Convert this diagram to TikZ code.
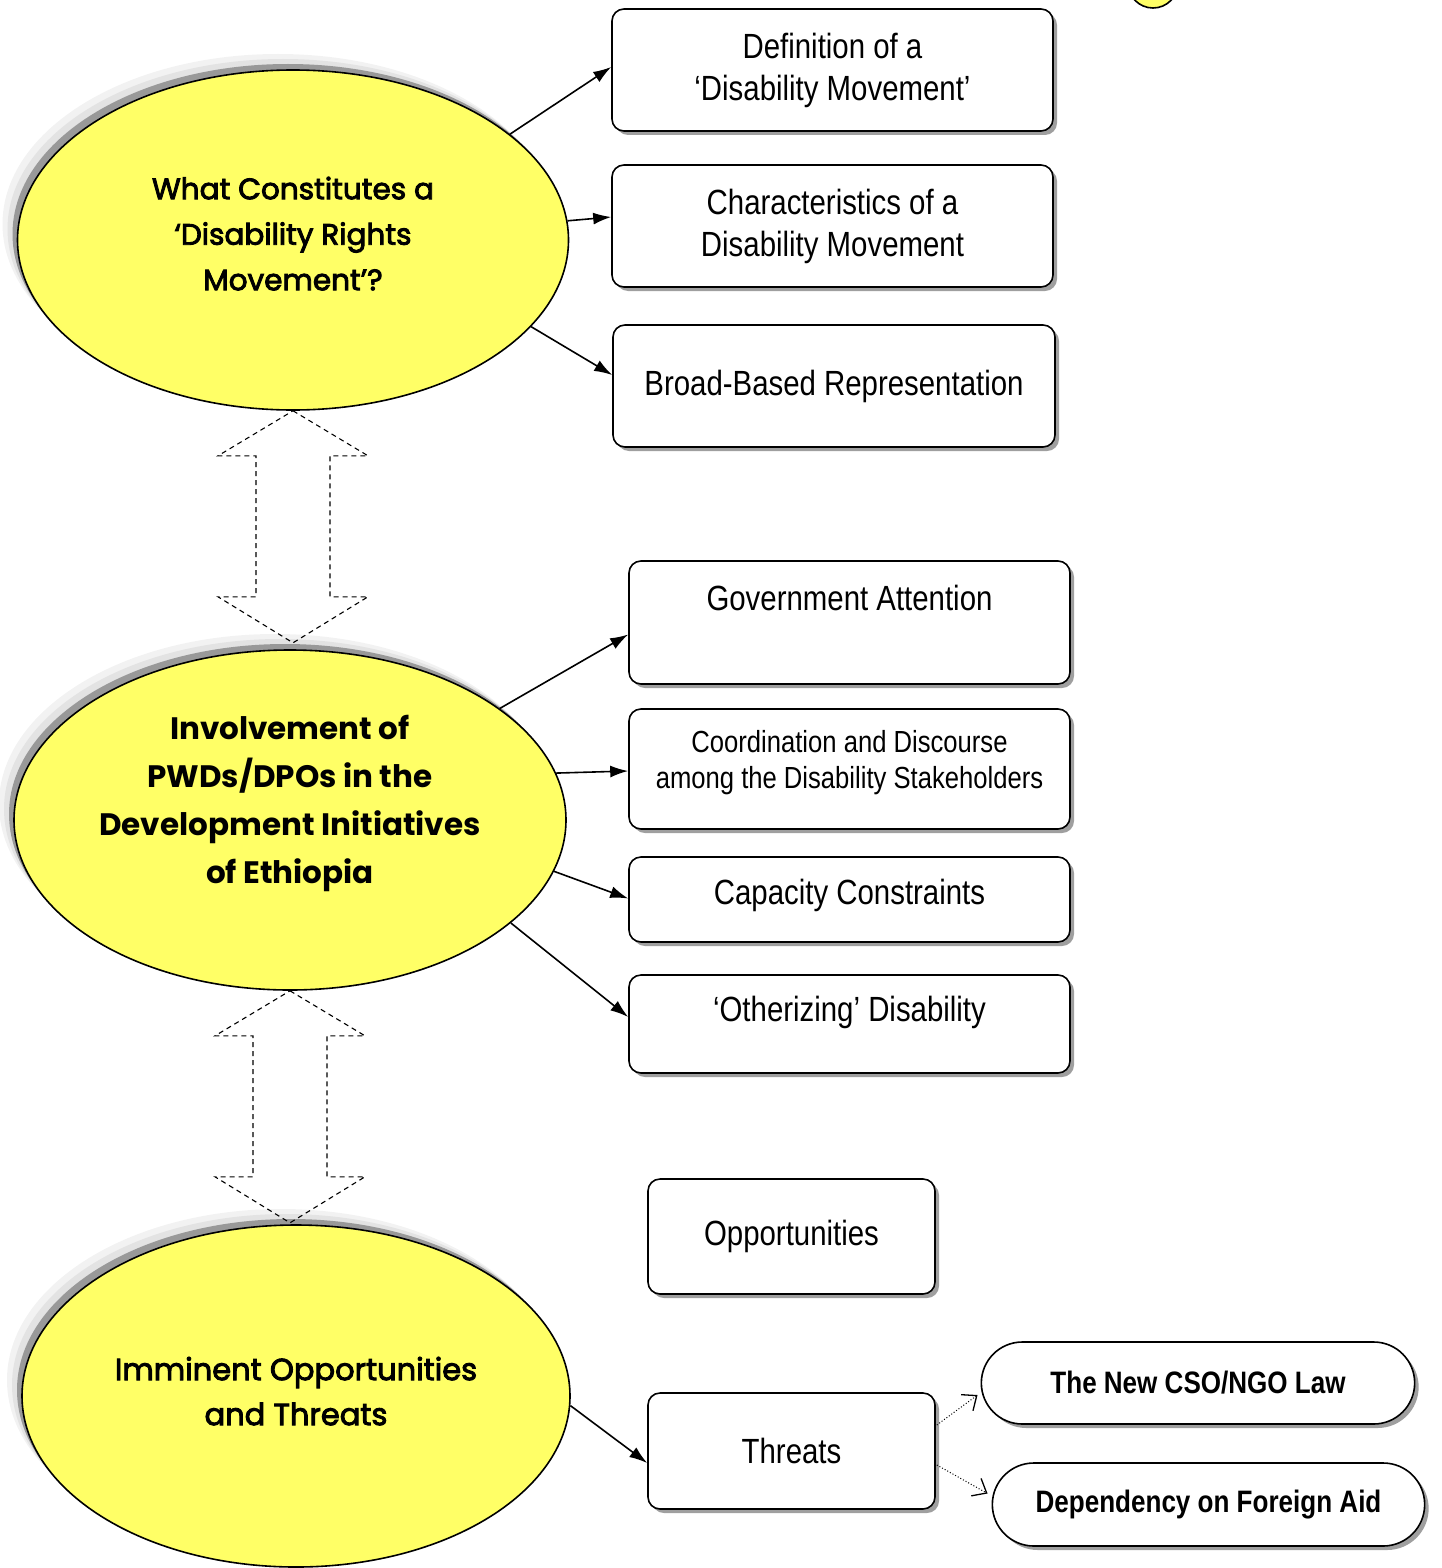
\documentclass[tikz,border=0pt]{standalone}
\usepackage{fontspec}
\setmainfont{Liberation Sans}
\newfontfamily\boxfont[FakeStretch=0.84]{Liberation Sans}
\newfontfamily\ovalfont{Poppins}
\newfontfamily\ovalmid[FakeBold=3]{Poppins}
\usetikzlibrary{arrows.meta,calc,shapes.geometric,shapes.misc,shadows}
\definecolor{OvalClr}{rgb}{1,1,0.4}
\definecolor{ShadeClr}{rgb}{0.6,0.6,0.6}

\newcommand\twoway[1]{\draw[twoway] (#1.south) -- ++(75,45) -- ++(-38,0) -- ++(0,141) -- ++(38,0) -- ++(-75,46) -- ++(-75,-46) -- ++(38,0) -- ++(0,-141) -- ++(-38,0) -- cycle;}

\begin{document}
\begin{tikzpicture}[x=1pt,y=-1pt,
  oval/.style={ellipse,draw,line width=1.6pt,fill=OvalClr,inner sep=0pt,align=center,
    general shadow={fill=gray!10,shadow xshift=-15pt,shadow yshift=16pt},
    general shadow={fill=gray!22,shadow xshift=-10pt,shadow yshift=11pt},
    general shadow={fill=ShadeClr,shadow xshift=-5pt,shadow yshift=6pt}},
  box/.style={rectangle,rounded corners=12pt,draw,line width=1.6pt,fill=white,align=center,
    minimum width=441pt,minimum height=122pt,font=\boxfont\fontsize{35}{42}\selectfont,
    drop shadow={shadow xshift=4pt,shadow yshift=-4pt,fill=gray!75,opacity=1}},
  pill/.style={rounded rectangle,draw,line width=1.6pt,fill=white,
    minimum width=440pt,minimum height=82pt,font=\boxfont\bfseries\fontsize{31}{37}\selectfont,
    drop shadow={shadow xshift=4pt,shadow yshift=-4pt,fill=gray!75,opacity=1}},
  arr/.style={line width=1.6pt,-{Latex[length=18pt,width=12pt]}},
  dotarr/.style={line width=1pt,dotted,-{Straight Barb[length=12pt,width=20pt,line width=1.3pt]}},
  twoway/.style={line width=1.1pt,dash pattern=on 5pt off 4pt}]
\useasboundingbox (0,0) rectangle (1442,1568);

\node[circle,draw,line width=1.6pt,fill=OvalClr,minimum size=50pt] (Dot) at (1153,-17) {};

\node[oval,minimum width=551pt,minimum height=340pt,text depth=13pt,font=\ovalmid\fontsize{29.5}{45.5}\selectfont] (E1) at (293,240)
  {What Constitutes a\\‘Disability Rights\\Movement’?};
\node[oval,minimum width=552pt,minimum height=340pt,text depth=42pt,font=\ovalfont\bfseries\fontsize{31}{48}\selectfont] (E2) at (290,820)
  {Involvement of\\PWDs/DPOs in the\\Development Initiatives\\of Ethiopia};
\node[oval,minimum width=548pt,minimum height=342pt,text depth=10pt,font=\ovalmid\fontsize{30.5}{45}\selectfont] (E3) at (296,1396)
  {Imminent Opportunities\\and Threats};

\node[box] (Def) at (832.5,70) {Definition of a\\‘Disability Movement’};
\node[box] (Char) at (832.5,226) {Characteristics of a\\Disability Movement};
\node[box,minimum width=442pt] (Broad) at (834,386) {Broad-Based Representation};

\node[box,minimum height=123pt,text depth=50pt] (Gov) at (849.5,622.5) {Government Attention};
\node[box,minimum height=120pt,text depth=20pt,font=\boxfont\fontsize{30.5}{36}\selectfont] (Coord) at (849.5,769) {Coordination and Discourse\\among the Disability Stakeholders};
\node[box,minimum height=85pt,text depth=15pt] (Cap) at (849.5,899.5) {Capacity Constraints};
\node[box,minimum height=98pt,text depth=30pt] (Oth) at (849.5,1024) {‘Otherizing’ Disability};

\node[box,minimum width=287pt,minimum height=115pt] (Opp) at (791.5,1236.5) {Opportunities};
\node[box,minimum width=287pt,minimum height=116pt] (Thr) at (791.5,1451) {Threats};

\node[pill] (Law) at (1198,1383) {The New CSO/NGO Law};
\node[pill,minimum width=439pt,minimum height=83pt] (Aid) at (1208.5,1504.5) {Dependency on Foreign Aid};

\draw[arr] (E1.26) -- ($(Def.west)+(0,-3)$);
\draw[arr] (E1.4) -- ($(Char.west)+(0,-9)$);
\draw[arr] (E1.-20) -- ($(Broad.west)+(0,-11)$);

\draw[arr] (E2.28) -- ($(Gov.west)+(0,12)$);
\draw[arr] (E2.10) -- ($(Coord.west)+(0,2)$);
\draw[arr] (E2.-11) -- ($(Cap.west)+(0,-1)$);
\draw[arr] (E2.-25) -- ($(Oth.west)+(0,-7)$);

\draw[arr] (E3.-2) -- ($(Thr.west)+(0,12)$);

\draw[dotarr] ($(Thr.east)+(1,-26)$) -- ($(Law.west)+(-3,12)$);
\draw[dotarr] ($(Thr.east)+(1,14)$) -- ($(Aid.west)+(-4,-11)$);

\twoway{E1}
\twoway{E2}

\end{tikzpicture}
\end{document}
